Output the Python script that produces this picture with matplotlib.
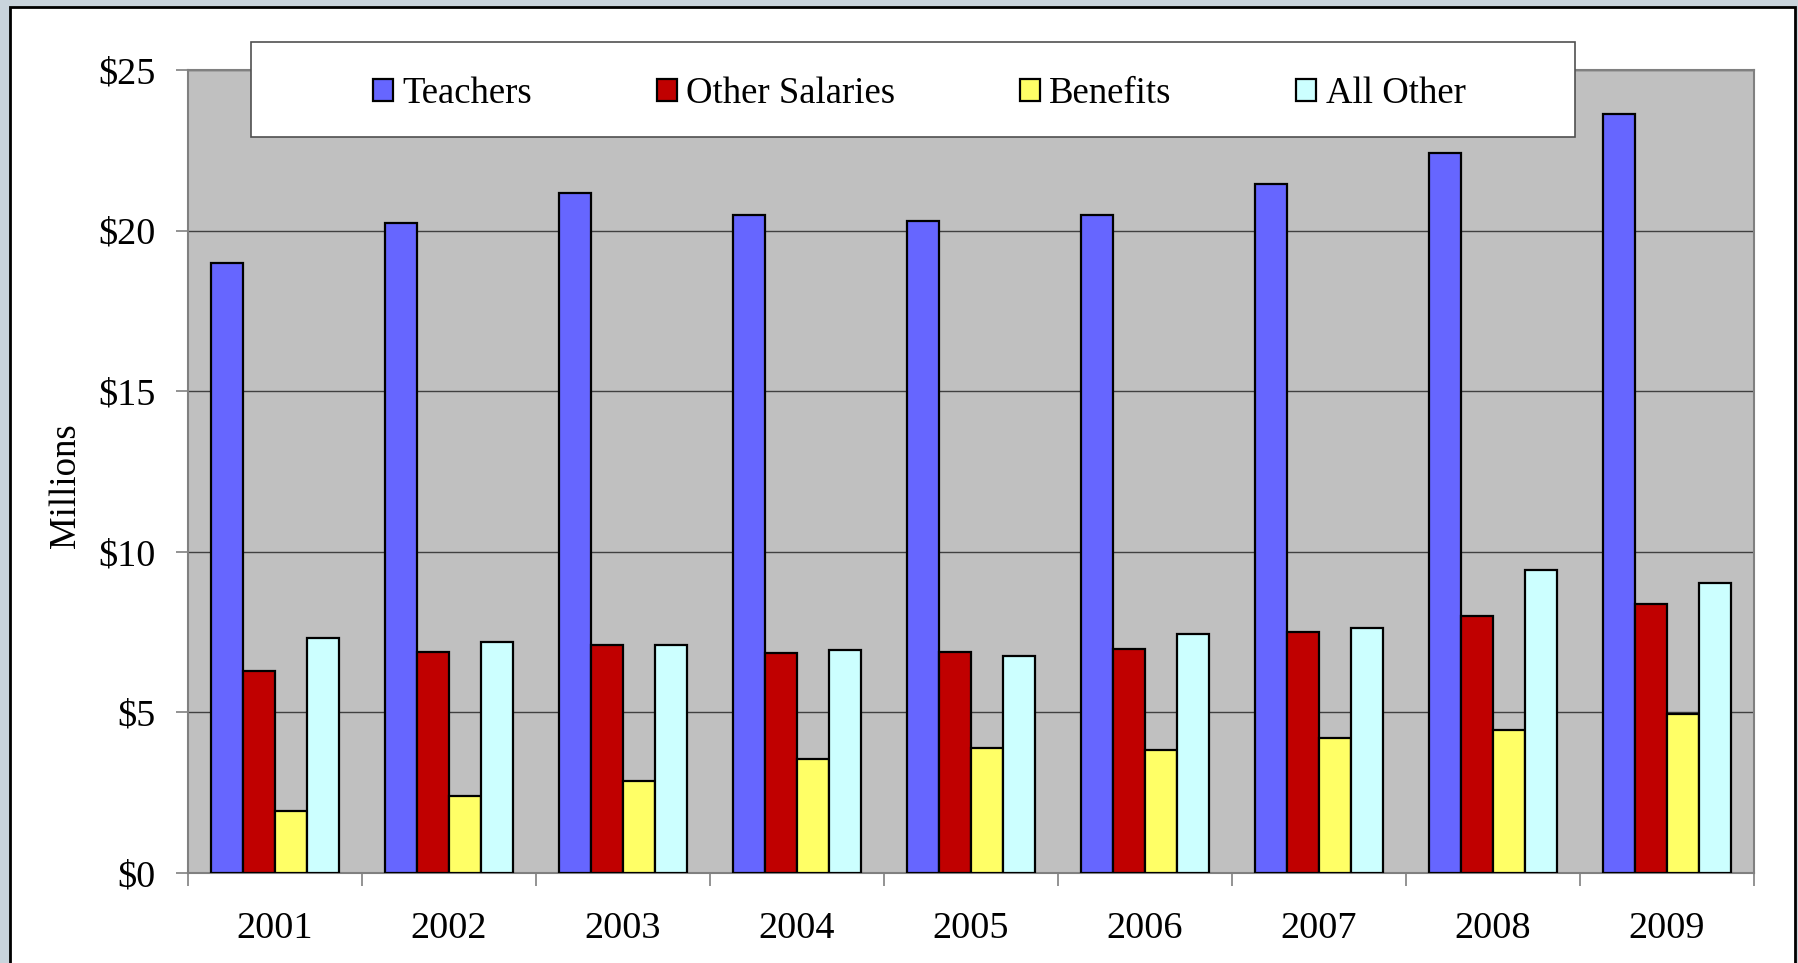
import numpy as np
import matplotlib
matplotlib.use("Agg")
import matplotlib.pyplot as plt
from matplotlib.patches import Rectangle

years = ["2001", "2002", "2003", "2004", "2005", "2006", "2007", "2008", "2009"]
teachers = [19.0, 20.25, 21.18, 20.5, 20.29, 20.5, 21.46, 22.43, 23.64]
other_salaries = [6.29, 6.89, 7.11, 6.86, 6.89, 6.96, 7.5, 8.0, 8.39]
benefits = [1.93, 2.39, 2.86, 3.54, 3.89, 3.82, 4.21, 4.46, 4.96]
all_other = [7.32, 7.18, 7.11, 6.93, 6.75, 7.43, 7.64, 9.43, 9.04]

series = [("Teachers", teachers, "#6666FF"),
          ("Other Salaries", other_salaries, "#C00000"),
          ("Benefits", benefits, "#FFFF66"),
          ("All Other", all_other, "#CCFFFF")]

plt.rcParams['font.family'] = ['Liberation Serif', 'DejaVu Serif']

W, H = 1799, 963
fig = plt.figure(figsize=(W / 100, H / 100), dpi=100)
fig.patch.set_facecolor("#C9D4DC")

# white panel with black border
fig.patches.append(Rectangle((10 / W, -0.05), 1785 / W, 1 - 7 / H + 0.05,
                             transform=fig.transFigure, facecolor="white",
                             edgecolor="black", linewidth=2, zorder=-1))

ax = fig.add_axes([188 / W, 1 - 873 / H, (1754 - 188) / W, (873 - 70) / H])
ax.set_facecolor("#C0C0C0")

x = np.arange(len(years))
w = 0.183
for i, (name, vals, col) in enumerate(series):
    ax.bar(x + (i - 1.5) * w, vals, w, color=col, edgecolor="black",
           linewidth=1.6, label=name, zorder=3)

ax.set_xlim(-0.5, len(years) - 0.5)
ax.set_ylim(0, 25)
ax.set_yticks([0, 5, 10, 15, 20, 25])
ax.set_yticklabels(["$0", "$5", "$10", "$15", "$20", "$25"])
ax.yaxis.grid(True, color="#404040", linewidth=1.0, zorder=1)
ax.set_axisbelow(True)

ax.set_xticks(x)
ax.set_xticklabels(years)
ax.set_xticks(np.arange(-0.5, len(years), 1), minor=True)
ax.tick_params(axis="x", which="major", length=0, pad=28, labelsize=27.5)
ax.tick_params(axis="x", which="minor", length=9, color="#808080", width=1.2)
ax.tick_params(axis="y", length=9, color="#808080", width=1.2, pad=14, labelsize=27.5)

for s in ax.spines.values():
    s.set_color("#808080")
    s.set_linewidth(1.5)

ax.set_ylabel("Millions", fontsize=26.5)
ax.yaxis.set_label_coords(-0.067, 0.482)

# legend box
lx0, lx1, ly0, ly1 = 251, 1575, 42, 137
fig.patches.append(Rectangle((lx0 / W, 1 - ly1 / H), (lx1 - lx0) / W, (ly1 - ly0) / H,
                             transform=fig.transFigure, facecolor="white",
                             edgecolor="#505050", linewidth=1.2, zorder=5))
leg = fig.legend(loc="center", bbox_to_anchor=((lx0 + lx1) / 2 / W + 0.0035, 1 - (ly0 + ly1 + 8) / 2 / H),
                 ncol=4, frameon=False, fontsize=26.5, handlelength=0.55,
                 handleheight=0.55, handletextpad=0.25, columnspacing=3.38)
leg.set_zorder(6)

fig.savefig("out.png", dpi=100, facecolor=fig.get_facecolor())
